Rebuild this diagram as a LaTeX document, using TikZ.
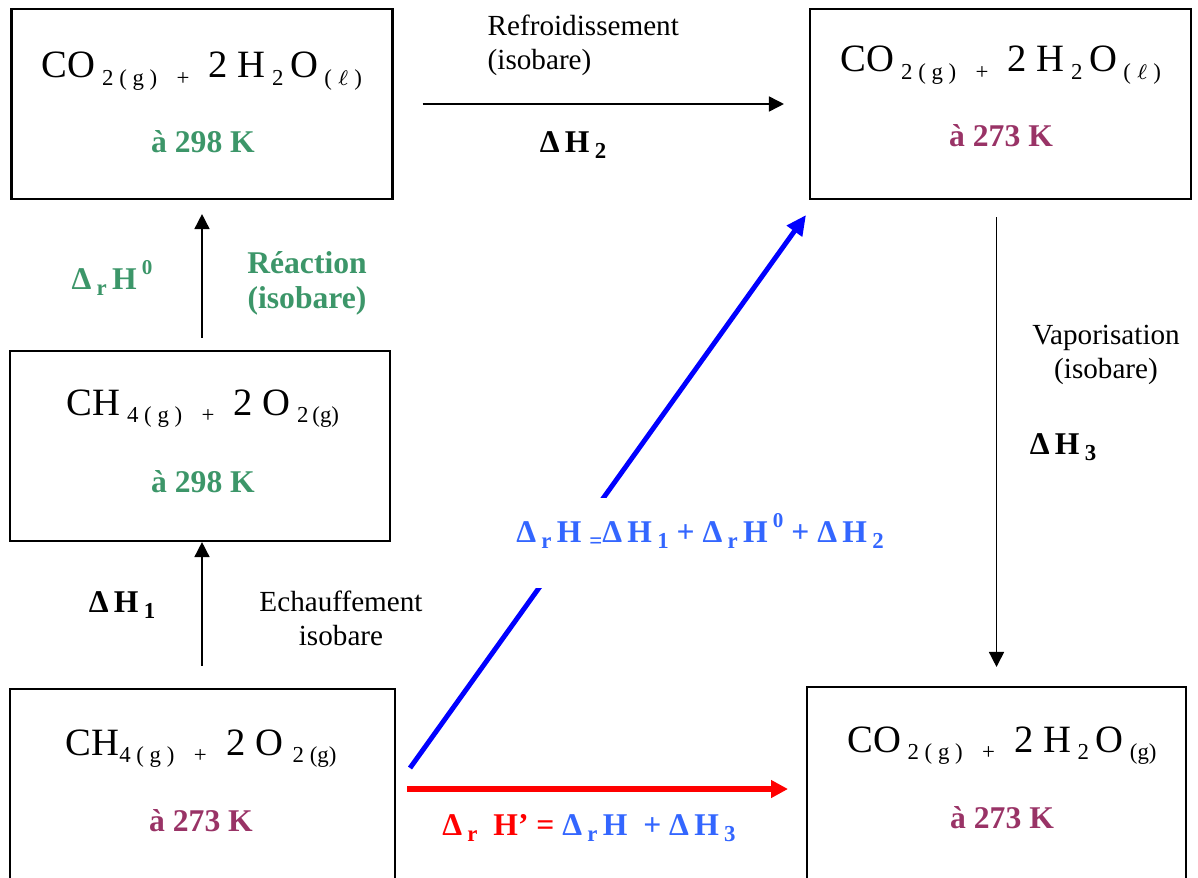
\documentclass[tikz,border=0pt]{standalone}
\usepackage{fontspec}
\setmainfont{Liberation Serif}
\usetikzlibrary{arrows.meta,positioning}

\definecolor{vertK}{RGB}{60,150,105}
\definecolor{violetK}{RGB}{153,51,102}
\definecolor{bleuL}{RGB}{51,102,255}
\newcommand{\ind}[1]{\raisebox{-0.45ex}{\fontsize{6.5}{7.5}\selectfont #1}}
\newcommand{\expo}[1]{\raisebox{1.0ex}{\fontsize{6}{7}\selectfont #1}}

\begin{document}
\begin{tikzpicture}[x=0.1mm,y=-0.1mm,>=Stealth,
  etat/.style={draw,line width=0.6pt,minimum width=38.1mm,minimum height=19mm,inner sep=0pt},
  formule/.style={anchor=base,inner sep=0pt,font=\fontsize{11}{13}\selectfont},
  temp/.style={anchor=base,inner sep=0pt,font=\fontsize{9}{10}\selectfont\bfseries},
  legende/.style={inner sep=0pt,align=center,font=\fontsize{8.3}{9.7}\selectfont},
  delta/.style={inner sep=0pt,font=\fontsize{9}{10}\selectfont\bfseries},
  fleche/.style={-{Triangle[length=1.5mm,width=1.5mm]},line width=0.45pt}]
  \useasboundingbox (0,0) rectangle (1198,877);

  % les cinq etats
  \node[etat] (A) at (202,104) {};
  \node[formule] (Af) at (202,78) {CO\,\ind{2 ( g )}\ \ \ind{+}\ \ 2 H\,\ind{2}\,O\,\ind{( $\ell$ )}};
  \node[temp,text=vertK] (At) at (203,153) {à 298 K};

  \node[etat] (B) at (1000.5,104) {};
  \node[formule] (Bf) at (1001,72) {CO\,\ind{2 ( g )}\ \ \ind{+}\ \ 2 H\,\ind{2}\,O\,\ind{( $\ell$ )}};
  \node[temp,text=violetK] (Bt) at (1001,147) {à 273 K};

  \node[etat,minimum width=38mm] (C) at (200,446) {};
  \node[formule] (Cf) at (203,415) {CH\,\ind{4 ( g )}\ \ \ind{+}\ \ 2 O\,\ind{2\,(g)}};
  \node[temp,text=vertK] (Ct) at (203,492) {à 298 K};

  \node[etat,minimum width=38.5mm,minimum height=20mm] (D) at (202.5,789) {};
  \node[formule] (Df) at (201,755) {CH\ind{4 ( g )}\ \ \ind{+}\ \ 2 O\ \ind{2 (g)}};
  \node[temp,text=violetK] (Dt) at (201,831) {à 273 K};

  \node[etat,minimum width=37.9mm,minimum height=20mm] (E) at (996.5,787) {};
  \node[formule] (Ef) at (1002,752) {CO\,\ind{2 ( g )}\ \ \ind{+}\ \ 2 H\,\ind{2}\,O\,\ind{(g)}};
  \node[temp,text=violetK] (Et) at (1002,828) {à 273 K};

  % transformations isobares
  \draw[fleche,shorten <=2.2mm] (A.south |- D.north) -- (A.south |- C.south);
  \draw[fleche,shorten <=1.2mm,shorten >=1.4mm] (A.south |- C.north) -- (A.south);
  \draw[fleche,shorten <=2.9mm,shorten >=2.5mm] (A.east) -- (B.west);
  \draw[fleche,shorten <=1.7mm,shorten >=1.9mm] (E.north |- B.south) -- (E.north);

  \node[delta] (dH1) at (122,605) {Δ\,H\,\ind{1}};
  \node[legende] (ech) at (341,618) {Echauffement\\isobare};
  \node[delta,text=vertK] (drH0) at (112,278) {Δ\,\ind{r}\,H\,\expo{0}};
  \node[legende,text=vertK,font=\fontsize{9}{10}\selectfont\bfseries] (reac) at (307,283) {Réaction\\(isobare)};
  \node[legende,anchor=west,align=left] (refr) at (487,45) {Refroidissement\\(isobare)};
  \node[delta] (dH2) at (573,145) {Δ\,H\,\ind{2}};
  \node[legende] (vap) at (1106,355) {Vaporisation\\(isobare)};
  \node[delta] (dH3) at (1063,447) {Δ\,H\,\ind{3}};

  % chemins directs
  \coordinate (bleuDep) at (410,768);
  \coordinate (bleuArr) at (806,215);
  \coordinate (rougeDep) at (407,789);
  \coordinate (rougeArr) at (788,789);
  \draw[blue,line width=1.4pt,-{Triangle[length=2mm,width=1.8mm]}] (bleuDep) -- (bleuArr);
  \draw[red,line width=1.7pt,-{Triangle[length=1.7mm,width=1.7mm]}] (rougeDep) -- (rougeArr);

  \node[delta,text=bleuL,fill=white,anchor=base,inner ysep=0pt,text height=4.4mm,text depth=4.6mm] (drH) at (700,542)
    {Δ\,\ind{r}\,H \ind{=}Δ\,H\,\ind{1} + Δ\,\ind{r}\,H\,\expo{0} + Δ\,H\,\ind{2}};
  \node[delta] (drHp) at (589,828)
    {\color{red}Δ\,\ind{r}\ \ H’ = \color{bleuL}Δ\,\ind{r}\,H \ + Δ\,H\,\ind{3}};
\end{tikzpicture}
\end{document}
